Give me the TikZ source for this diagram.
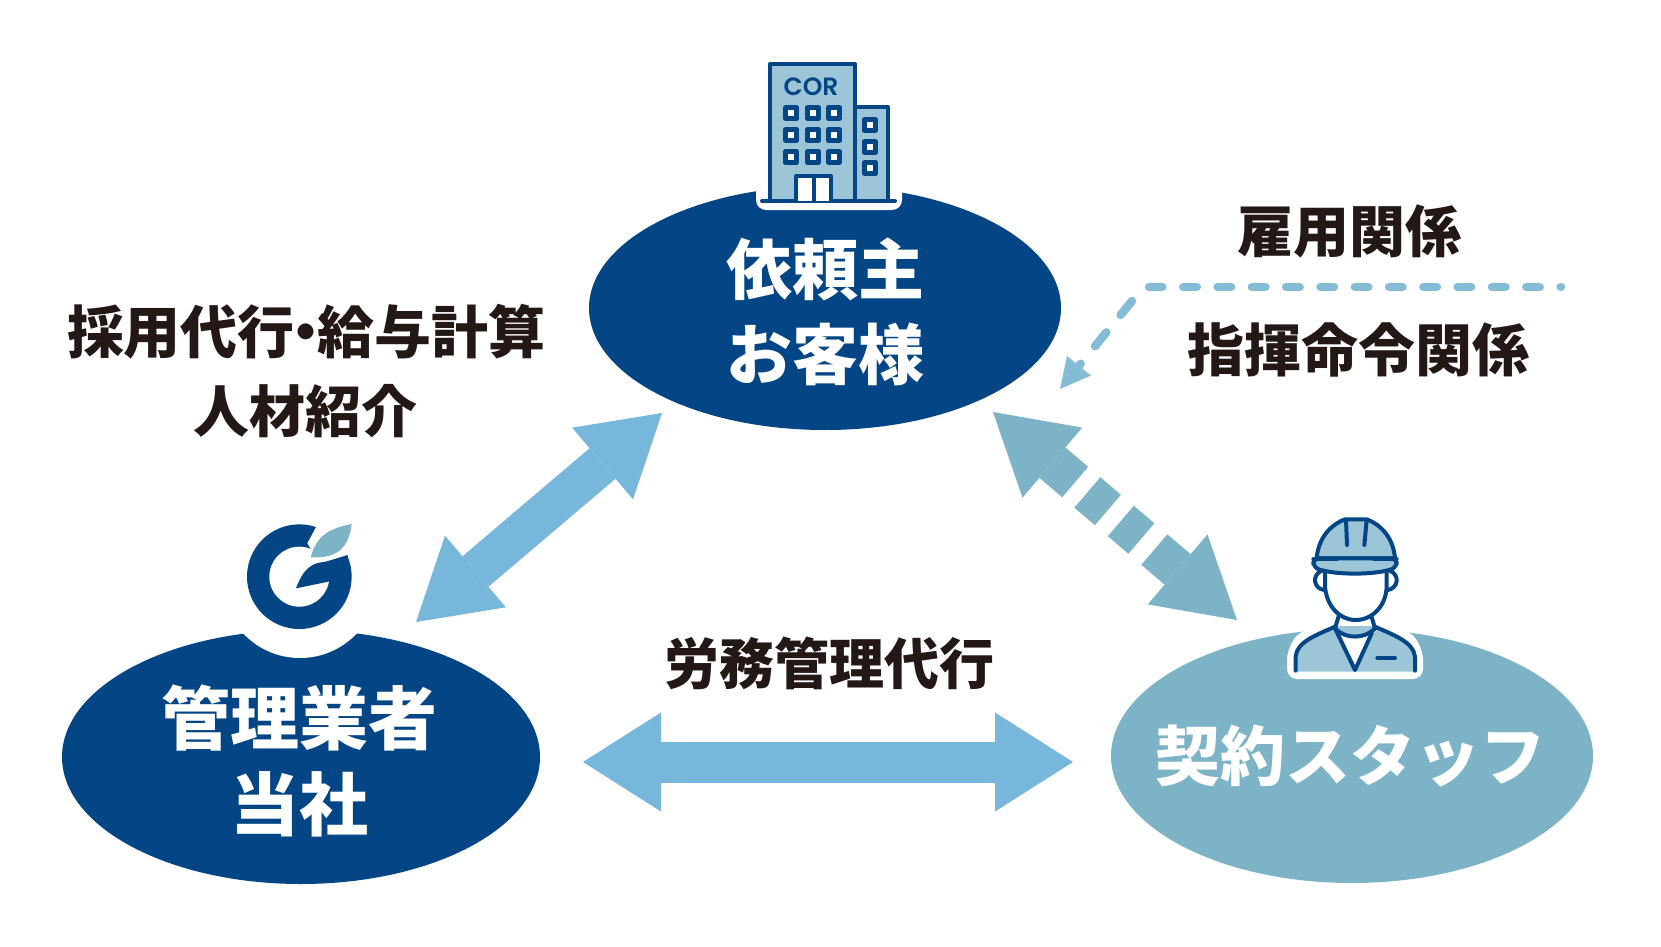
\documentclass[tikz,border=0pt]{standalone}
\usepackage{fontspec}
\usetikzlibrary{shapes.geometric,arrows.meta}
\newfontfamily\jpf{Noto Sans CJK JP}
\newfontfamily\corf{Poppins SemiBold}
\definecolor{navy}{HTML}{044585}
\definecolor{teal}{HTML}{7DB3C6}
\definecolor{skyb}{HTML}{78B7DC}
\definecolor{dashb}{HTML}{83BCD4}
\definecolor{inkc}{HTML}{231815}
\definecolor{iconfill}{HTML}{9CC6D8}
\newcommand{\jpsize}[1]{\jpf\bfseries\fontsize{#1}{#1}\selectfont}
\tikzset{
  x=0.5pt,y=-0.5pt,
  party/.style={ellipse,inner sep=0pt,align=center,text=white},
  lbl/.style={inner sep=0pt,text=inkc,align=center},
  line/.style={line width=2pt,draw=navy,line join=round,line cap=round},
  blockarrow/.style={line width=#1/2,{Triangle[length=39pt,width=47pt,line width=0pt]}-{Triangle[length=39pt,width=47pt,line width=0pt]}},
}
\begin{document}
\begin{tikzpicture}
\useasboundingbox (0,0) rectangle (1661,947);
\fill[white] (0,0) rectangle (1661,947);

% parties
\node[party,fill=navy,minimum width=236pt,minimum height=122pt,font=\jpsize{33pt}] (client) at (825,308) {\rule{0pt}{32pt}依頼主\\[9.5pt]お客様};
\node[party,fill=navy,minimum width=239pt,minimum height=127pt,font=\jpsize{34.5pt}] (manager) at (301,757) {\rule{0pt}{34pt}\hspace*{-2pt}管理業者\\[8.5pt]\hspace*{-2pt}当社};
\node[party,fill=teal,minimum width=241pt,minimum height=127pt,font=\jpsize{32.5pt}] (staff) at (1352,756) {\makebox[0pt][c]{\hspace*{-2pt}契約スタッフ}};

% labels
\node[lbl,font=\jpsize{28.5pt}] (l1) at (306,332) {採用代行\hspace{-8.75pt}・\hspace{-8.75pt}給与計算};
\node[lbl,font=\jpsize{28pt}] (l2) at (305,411) {人材紹介};
\node[lbl,font=\jpsize{28pt}] (l3) at (1349,231) {雇用関係};
\node[lbl,font=\jpsize{28.5pt}] (l4) at (1358,350) {指揮命令関係};
\node[lbl,font=\jpsize{27.5pt}] (l5) at (829,663) {労務管理代行};

% connectors
\coordinate (a1) at (416,622);
\coordinate (a2) at (662,413);
\draw[blockarrow=40pt,draw=skyb] (a1) -- (a2);
\coordinate (b1) at (583,762);
\coordinate (b2) at (1073,762);
\draw[line width=20.5pt,draw=skyb,{Triangle[length=39pt,width=49.5pt,line width=0pt]}-{Triangle[length=39pt,width=49.5pt,line width=0pt]}] (b1) -- (b2);
\coordinate (c1) at (993,412);
\coordinate (c2) at (1237,620);
\draw[line width=20pt,draw=teal,dash pattern=on 15pt off 8pt on 13.5pt off 8.5pt on 13.5pt off 8.5pt on 17pt,
  {Triangle[length=39pt,width=46pt,line width=0pt]}-{Triangle[length=39pt,width=46pt,line width=0pt]}] (c1) -- (c2);
\coordinate (d0) at (1149,287);
\coordinate (d1) at (1561,287);
\draw[line width=4.2pt,draw=dashb,line cap=round,dash pattern=on 6.75pt off 10.4pt] (d0) -- (d1);
\coordinate (e0) at (1132,301);
\coordinate (e1) at (1060,389);
\draw[line width=4.2pt,draw=dashb,line cap=round,dash pattern=on 9pt off 11.25pt,-{Triangle[length=15pt,width=15.5pt,line width=0pt]}] (e0) -- (e1);

% building icon
\fill[white,rounded corners=5pt] (756,170) rectangle (902,210);
\draw[line,fill=iconfill] (855,107) rectangle (888,201);
\draw[line,fill=iconfill] (770,64) rectangle (855,201);
\draw[line] (762,201) -- (895,201);
\draw[line,fill=white] (796,201) -- (796,176) -- (831,176) -- (831,201);
\draw[line] (813.5,176) -- (813.5,201);
\node[inner sep=0pt,text=navy,font=\corf\fontsize{12.5pt}{12.5pt}\selectfont] (cor) at (811,87) {COR};
\foreach \wx in {791,813,834}{\foreach \wy in {113,135,157}{
  \draw[line,fill=white,line width=2.4pt] (\wx-5.5,\wy-5.5) rectangle (\wx+5.5,\wy+5.5);}}
\foreach \wy in {125,147,168}{
  \draw[line,fill=white,line width=2.4pt] (870-5.5,\wy-5.5) rectangle (870+5.5,\wy+5.5);}

% logo
\fill[white] (300,580) circle[radius=78];
\begin{scope}[shift={(220,500)},x=0.16667pt,y=-0.16667pt]
\fill[navy] (238,230) circle[radius=157];
\fill[white] (238,230) circle[radius=90];
\fill[white] (262,130) -- (292,74) -- (405,55) -- (405,165) -- (382,165) -- (300,190) -- cycle;
\fill[navy] (228,265) .. controls (245,220) and (265,190) .. (310,186) .. controls (340,184) and (365,182) .. (382,165) -- (393,230) -- (325,245) -- cycle;
\fill[teal] (395,72) .. controls (330,85) and (290,105) .. (272,172) .. controls (340,175) and (385,155) .. (395,72) -- cycle;
\end{scope}

% worker icon
\fill[white,rounded corners=5pt] (1287,679) -- (1287,650) -- (1300,630) -- (1410,630) -- (1423,650) -- (1423,679) -- cycle;
\begin{scope}[shift={(1260,500)},x=0.16667pt,y=-0.16667pt]
\fill[iconfill] (107,515) -- (107,470) .. controls (110,425) and (170,405) .. (225,378) -- (345,378) .. controls (400,405) and (460,425) .. (465,470) -- (465,515) -- cycle;
\draw[line] (107,512) -- (107,470) .. controls (110,425) and (170,405) .. (225,380);
\draw[line] (465,512) -- (465,470) .. controls (460,425) and (400,405) .. (345,380);
\fill[white] (225,385) .. controls (255,415) and (315,415) .. (340,385) -- (285,510) -- cycle;
\draw[line] (225,385) -- (285,510) -- (335,400);
\draw[line] (225,385) .. controls (255,418) and (315,418) .. (345,385);
\draw[line] (237,345) -- (225,385);
\draw[line] (333,345) -- (345,385);
\draw[line] (352,474) -- (405,474);
\draw[line,fill=white] (185,212) .. controls (155,225) and (160,265) .. (192,270);
\draw[line,fill=white] (390,212) .. controls (420,225) and (415,265) .. (383,270);
\draw[line,fill=white] (195,205) -- (195,260) .. controls (200,320) and (240,360) .. (287,360) .. controls (335,360) and (378,320) .. (380,260) -- (380,205);
\draw[line,fill=iconfill] (170,175) .. controls (175,115) and (210,75) .. (255,58) -- (320,58) .. controls (365,75) and (400,115) .. (405,175) -- cycle;
\draw[line,fill=iconfill,rounded corners=3pt] (160,175) -- (410,175) -- (410,203) .. controls (340,225) and (230,225) .. (160,203) -- cycle;
\draw[line] (258,60) -- (261,135);
\draw[line] (320,60) -- (313,135);
\draw[line] (160,178) -- (230,178);
\draw[line] (342,178) -- (410,178);
\end{scope}
\end{tikzpicture}
\end{document}
